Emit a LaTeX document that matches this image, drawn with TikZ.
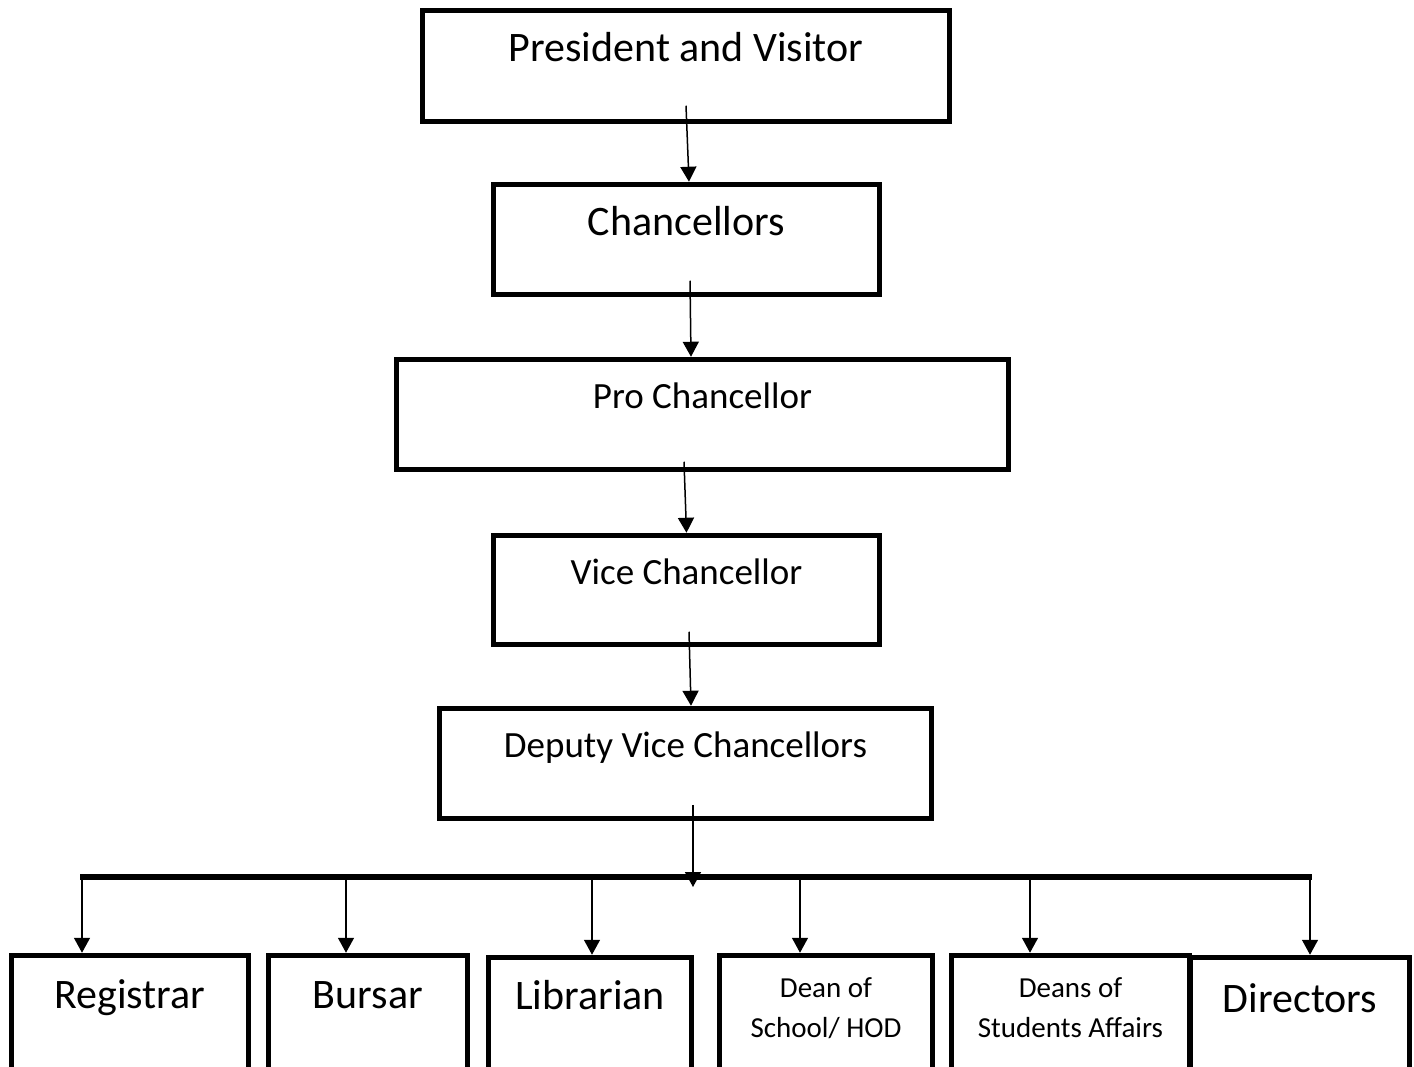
\documentclass[tikz,border=0pt]{standalone}
\usepackage{fontspec}
\setmainfont{Carlito}
\usetikzlibrary{arrows.meta}

\begin{document}
\begin{tikzpicture}[
  x=1pt, y=-1pt,
  >={Triangle[width=16pt,length=15pt]},
  post/.style={rectangle, draw=black, line width=5.5pt, inner sep=0pt, align=center},
  big/.style={font=\fontsize{42}{50}\selectfont, text height=30pt},
  mid/.style={font=\fontsize{37}{44}\selectfont, text height=26pt},
  sml/.style={font=\fontsize{29}{40}\selectfont, text height=61pt},
  link/.style={->, line width=1.5pt},
  bus/.style={line width=5.5pt},
]
\clip (0,0) rectangle (1414,1067);
\fill[white] (0,0) rectangle (1414,1067);

% --- chain of offices ---
\node[post, big, minimum width=527pt, minimum height=111pt, text depth=38pt] (pv)   at (686,66)      {President and Visitor};
\node[post, big, minimum width=386pt, minimum height=110pt, text depth=37pt] (chan) at (686.5,239.5) {Chancellors};
\node[post, mid, minimum width=612pt, minimum height=110pt, text depth=39pt] (pro)  at (702.5,414.5) {Pro Chancellor};
\node[post, mid, minimum width=386pt, minimum height=109pt, text depth=38pt] (vc)   at (686.5,590)   {Vice Chancellor};
\node[post, mid, minimum width=492pt, minimum height=110pt, text depth=39pt] (dvc)  at (685.5,763.5) {Deputy Vice Chancellors};

% --- bottom row ---
\node[post, big, minimum width=237pt, minimum height=140pt, text depth=65pt] (reg)  at (130,1025.5)    {Registrar};
\node[post, big, minimum width=199pt, minimum height=140pt, text depth=65pt] (burs) at (368,1025.5)    {Bursar};
\node[post, big, minimum width=203pt, minimum height=140pt, text depth=67pt] (lib)  at (590,1027.5)    {Librarian};
\node[post, sml, minimum width=213pt, minimum height=140pt, text depth=38pt] (dean) at (826,1025.5)    {Dean of\\School/ HOD};
\node[post, sml, minimum width=238pt, minimum height=140pt, text depth=38pt] (dsa)  at (1070.5,1025.5) {Deans of\\Students Affairs};
\node[post, big, minimum width=219pt, minimum height=140pt, text depth=61pt] (dir)  at (1300,1027.5)   {Directors};

% --- arrows down the chain ---
\draw[link] ([yshift=18.5]pv.south) -- ([xshift=2.5]chan.north);
\draw[link] ([xshift=3.5,yshift=16.5]chan.south) -- ([xshift=-11.5]pro.north);
\draw[link] ([xshift=-18.5,yshift=10.5]pro.south) -- (vc.north);
\draw[link] ([xshift=2.5,yshift=15.5]vc.south) -- ([xshift=5.5]dvc.north);
\coordinate (drop) at (693,887);
\draw[link] ([xshift=7.5,yshift=16.5]dvc.south) -- (drop);

% --- bus and branches ---
\coordinate (busL) at (80,877);
\coordinate (busR) at (1312,877);
\draw[bus] (busL) -- (busR);
\foreach \nm/\bx in {reg/82, burs/346, lib/592, dean/800, dsa/1030, dir/1310} {
  \coordinate (b\nm) at (\bx,877);
  \draw[link] (b\nm) -- (b\nm |- \nm.north);
}
\end{tikzpicture}
\end{document}
